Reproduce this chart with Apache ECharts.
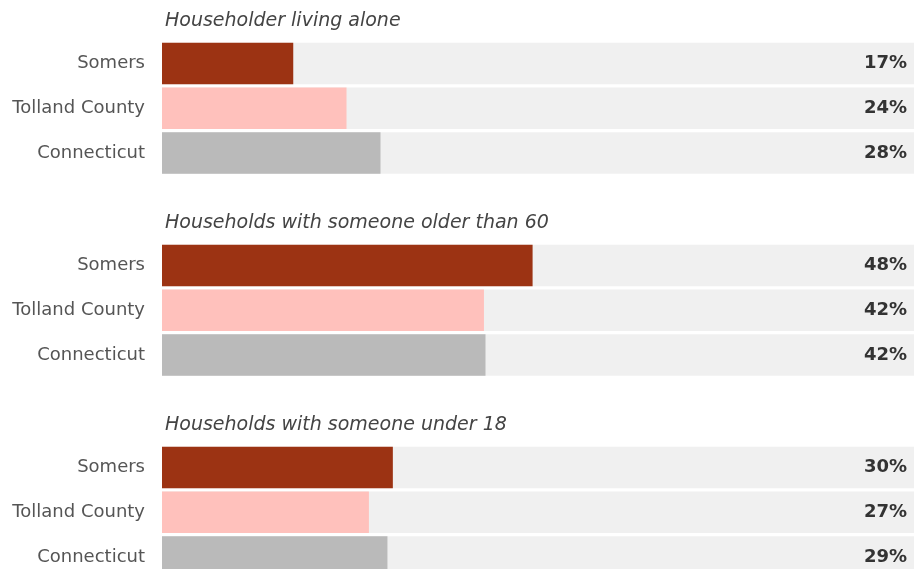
<!DOCTYPE html>
<html><head><meta charset="utf-8">
<script src="https://cdn.jsdelivr.net/npm/echarts@6/dist/echarts.min.js"></script>
<style>html,body{margin:0;padding:0;background:#fff;overflow:hidden}#c{width:915px;height:582px}</style>
</head><body><div id="c"></div>
<script>
const categories = ['Somers', 'Tolland County', 'Connecticut'];
const panelTitles = ['Householder living alone', 'Households with someone older than 60', 'Households with someone under 18'];
const livingAlone = [17.0, 23.9, 28.3];
const olderThan60 = [48.0, 41.7, 41.9];
const under18 = [29.9, 26.8, 29.2];
const barColors = ['#9c3313', '#ffc1bc', '#bababa'];
const AXIS_MAX = 97.4;

const panels = [livingAlone, olderThan60, under18];
const FONT = 'DejaVu Sans';
const gridTops = [41, 243, 445];
const titleTops = [12, 214, 416];
const GRID_H = 134.4;

const chart = echarts.init(document.getElementById('c'), null, {renderer: 'canvas'});
const option = {
  animation: false,
  backgroundColor: '#ffffff',
  title: panelTitles.map((t, i) => ({
    text: t, left: 165, top: titleTops[i], padding: 0,
    textStyle: {fontFamily: FONT, fontStyle: 'italic', fontWeight: 'normal', fontSize: 19, color: '#444444'}
  })),
  grid: panels.map((p, i) => ({left: 162, right: 1, top: gridTops[i], height: GRID_H, containLabel: false})),
  xAxis: panels.map((p, i) => ({gridIndex: i, type: 'value', min: 0, max: AXIS_MAX, show: false})),
  yAxis: panels.map((p, i) => ({
    gridIndex: i, type: 'category', data: categories, inverse: true,
    axisLine: {show: false}, axisTick: {show: false}, splitLine: {show: false},
    axisLabel: {margin: 17, fontFamily: FONT, fontSize: 18, color: '#555555'}
  })),
  series: []
};
panels.forEach((vals, i) => {
  option.series.push({
    type: 'bar', xAxisIndex: i, yAxisIndex: i, barWidth: 41.5, silent: true,
    data: vals.map(() => AXIS_MAX),
    itemStyle: {color: '#f0f0f0'},
    label: {
      show: true, position: 'insideRight', distance: 7,
      fontFamily: FONT, fontSize: 18, fontWeight: 'bold', color: '#333333',
      formatter: (p) => Math.round(vals[p.dataIndex]) + '%'
    },
    z: 1
  });
  option.series.push({
    type: 'bar', xAxisIndex: i, yAxisIndex: i, barWidth: 41.5, barGap: '-100%', silent: true,
    data: vals.map((v, k) => ({value: v, itemStyle: {color: barColors[k]}})),
    z: 2
  });
});
chart.setOption(option);
</script>
</body></html>
